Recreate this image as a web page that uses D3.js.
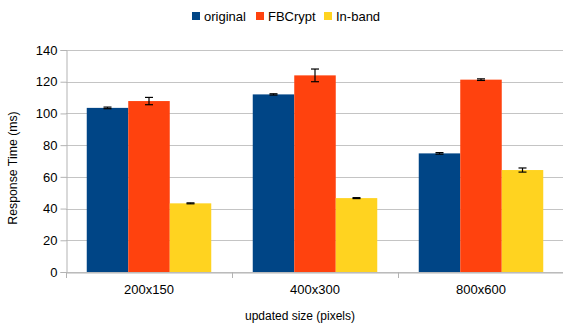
<!DOCTYPE html>
<html><head><meta charset="utf-8">
<script src="https://cdn.jsdelivr.net/npm/d3@7"></script>
<style>body{margin:0;background:#fff}svg{display:block;font-family:"Liberation Sans",Arial,sans-serif}</style>
</head><body>
<script>
const categories = ["200x150", "400x300", "800x600"];
const seriesNames = ["original", "FBCrypt", "In-band"];
const original = [103.5, 112, 74.8];
const fbcrypt = [107.8, 124, 121.3];
const inband = [43.3, 46.6, 64.3];
const originalErr = [0.5, 0.4, 0.5];
const fbcryptErr = [2.3, 4, 0.5];
const inbandErr = [0.3, 0.3, 1.3];
const yTicks = [0, 20, 40, 60, 80, 100, 120, 140];
const colors = ["#004586", "#ff420e", "#ffd320"];

const W = 563, H = 324;
const m = {left: 66, right: -1, top: 50, bottom: 52};
const svg = d3.select("body").append("svg").attr("width", W).attr("height", H);

const x = d3.scaleBand().domain(categories).range([m.left, W - m.right]).paddingInner(0).paddingOuter(0);
const x1 = d3.scaleBand().domain(seriesNames).range([0, x.bandwidth()]).paddingOuter(0.5).paddingInner(0);
const y = d3.scaleLinear().domain([0, 140]).range([H - m.bottom, m.top]);

// gridlines
svg.append("g").selectAll("line").data(yTicks).join("line")
  .attr("x1", m.left).attr("x2", W).attr("y1", d => Math.round(y(d)) + 0.5).attr("y2", d => Math.round(y(d)) + 0.5)
  .attr("stroke", "#c4c4c4").attr("stroke-width", 1);

// y axis
const ya = svg.append("g").attr("transform", `translate(${m.left + 0.5},0)`)
  .call(d3.axisLeft(y).tickValues(yTicks).tickSize(6).tickPadding(3).tickFormat(d3.format("d")));
ya.select(".domain").attr("stroke", "#b3b3b3");
ya.selectAll(".tick line").attr("stroke", "#b3b3b3");
ya.selectAll(".tick text").attr("font-size", 13).attr("fill", "#000").attr("font-family", "Liberation Sans, Arial, sans-serif");

const series = [original, fbcrypt, inband];
const errs = [originalErr, fbcryptErr, inbandErr];
const data = [];
categories.forEach((c, i) => seriesNames.forEach((s, j) => data.push({c, s, j, v: series[j][i], e: errs[j][i]})));

svg.append("g").selectAll("rect").data(data).join("rect")
  .attr("x", d => x(d.c) + x1(d.s)).attr("width", x1.bandwidth())
  .attr("y", d => y(d.v)).attr("height", d => y(0) - y(d.v))
  .attr("fill", d => colors[d.j]);

// x axis
const xa = svg.append("g").attr("transform", `translate(0,${y(0) + 0.5})`)
  .call(d3.axisBottom(x).tickSize(0).tickPadding(12));
xa.select(".domain").attr("stroke", "#b3b3b3");
xa.selectAll(".tick text").attr("font-size", 13).attr("fill", "#000").attr("font-family", "Liberation Sans, Arial, sans-serif");
svg.append("g").selectAll("line").data(categories).join("line")
  .attr("x1", d => Math.round(x(d)) + 0.5).attr("x2", d => Math.round(x(d)) + 0.5)
  .attr("y1", y(0)).attr("y2", y(0) + 6).attr("stroke", "#b3b3b3");

// error bars
const eg = svg.append("g").attr("stroke", "#000").attr("stroke-width", 1.2);
data.forEach(d => {
  const cx = x(d.c) + x1(d.s) + x1.bandwidth() / 2;
  const y1 = y(d.v + d.e), y2 = y(d.v - d.e);
  eg.append("line").attr("x1", cx).attr("x2", cx).attr("y1", y1).attr("y2", y2);
  eg.append("line").attr("x1", cx - 4).attr("x2", cx + 4).attr("y1", y1).attr("y2", y1);
  eg.append("line").attr("x1", cx - 4).attr("x2", cx + 4).attr("y1", y2).attr("y2", y2);
});

// axis titles
svg.append("text").attr("transform", `translate(17,168) rotate(-90)`)
  .attr("text-anchor", "middle").attr("font-size", 12.3).text("Response Time (ms)");
svg.append("text").attr("x", 300).attr("y", 320).attr("text-anchor", "middle").attr("font-size", 12).text("updated size (pixels)");

// legend
const legX = [192, 256, 324];
const lg = svg.append("g");
seriesNames.forEach((s, j) => {
  lg.append("rect").attr("x", legX[j]).attr("y", 12).attr("width", 8).attr("height", 8).attr("fill", colors[j]);
  lg.append("text").attr("x", legX[j] + 12).attr("y", 20.5).attr("font-size", 13).text(s);
});
</script>
</body></html>
